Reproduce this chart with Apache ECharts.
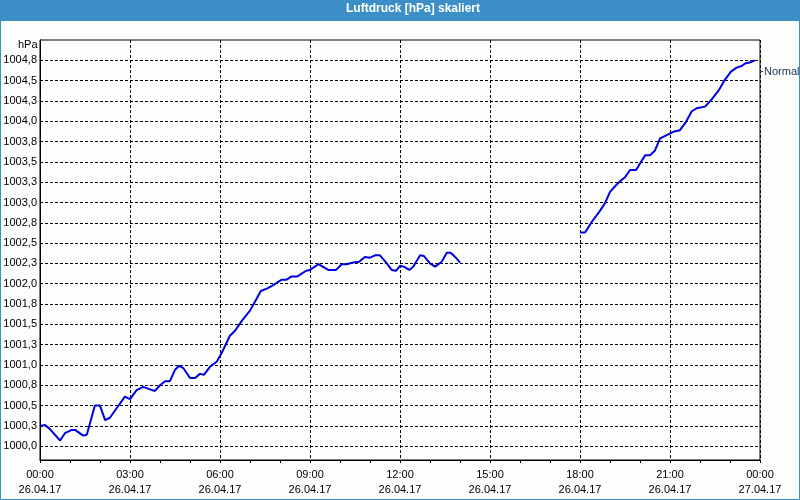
<!DOCTYPE html>
<html>
<head>
<meta charset="utf-8">
<script src="https://cdn.jsdelivr.net/npm/echarts@6/dist/echarts.min.js"></script>
<style>
html,body{margin:0;padding:0;background:#fcfefc;}
#chart{width:800px;height:500px;}
</style>
</head>
<body>
<div id="chart"></div>
<script>
// --- data ---
var seriesName = 'Normal';
var hours = [
  0.0, 0.17, 0.33, 0.67, 0.83, 1.06, 1.17, 1.44, 1.56, 1.83, 2.0, 2.17, 2.33, 2.56, 2.83, 3.0,
  3.22, 3.44, 3.67, 3.83, 4.0, 4.17, 4.33, 4.5, 4.64, 4.78, 5.0, 5.17, 5.33, 5.47, 5.67, 5.89,
  6.06, 6.33, 6.5, 6.72, 7.0, 7.17, 7.36, 7.56, 7.72, 8.06, 8.22, 8.39, 8.58, 8.87, 9.0, 9.28,
  9.61, 9.87, 10.06, 10.22, 10.44, 10.64, 10.83, 11.0, 11.17, 11.33, 11.56, 11.72, 11.87, 12.0,
  12.13, 12.31, 12.44, 12.67, 12.8, 13.0, 13.17, 13.39, 13.56, 13.69, 13.89, 14.0,
  16.0,
  18.0, 18.17, 18.39, 18.67, 18.83, 19.0, 19.17, 19.33, 19.5, 19.67, 19.87, 20.0, 20.17, 20.33,
  20.5, 20.67, 20.89, 21.11, 21.33, 21.53, 21.72, 21.89, 22.17, 22.39, 22.64, 22.83, 23.03,
  23.22, 23.39, 23.5, 23.72, 23.83
];
var pressure = [
  1000.25, 1000.26, 1000.21, 1000.07, 1000.16, 1000.20, 1000.20, 1000.13, 1000.14, 1000.50, 1000.50, 1000.32, 1000.35, 1000.47, 1000.61, 1000.58,
  1000.69, 1000.73, 1000.70, 1000.68, 1000.75, 1000.80, 1000.80, 1000.94, 1000.99, 1000.96, 1000.84, 1000.84, 1000.89, 1000.88, 1000.98, 1001.04,
  1001.15, 1001.36, 1001.42, 1001.54, 1001.67, 1001.78, 1001.91, 1001.94, 1001.97, 1002.05, 1002.05, 1002.09, 1002.09, 1002.16, 1002.17, 1002.24,
  1002.17, 1002.17, 1002.24, 1002.24, 1002.26, 1002.27, 1002.33, 1002.32, 1002.35, 1002.35, 1002.25, 1002.17, 1002.16, 1002.22,
  1002.21, 1002.17, 1002.21, 1002.35, 1002.34, 1002.25, 1002.21, 1002.27, 1002.38, 1002.38, 1002.31, 1002.26,
  null,
  1002.63, 1002.63, 1002.76, 1002.90, 1002.99, 1003.13, 1003.20, 1003.26, 1003.31, 1003.40, 1003.40, 1003.48, 1003.58, 1003.58,
  1003.64, 1003.79, 1003.83, 1003.87, 1003.89, 1003.99, 1004.12, 1004.16, 1004.18, 1004.27, 1004.39, 1004.51, 1004.61,
  1004.66, 1004.68, 1004.71, 1004.73, 1004.75
];
var yTickValues = [1000, 1000.25, 1000.5, 1000.75, 1001, 1001.25, 1001.5, 1001.75, 1002, 1002.25,
  1002.5, 1002.75, 1003, 1003.25, 1003.5, 1003.75, 1004, 1004.25, 1004.5, 1004.75];
var yTickLabels = ['1000,0', '1000,3', '1000,5', '1000,8', '1001,0', '1001,3', '1001,5', '1001,8', '1002,0', '1002,3',
  '1002,5', '1002,8', '1003,0', '1003,3', '1003,5', '1003,8', '1004,0', '1004,3', '1004,5', '1004,8'];
var xTimeLabels = ['00:00', '03:00', '06:00', '09:00', '12:00', '15:00', '18:00', '21:00', '00:00'];
var xDateLabels = ['26.04.17', '26.04.17', '26.04.17', '26.04.17', '26.04.17', '26.04.17', '26.04.17', '26.04.17', '27.04.17'];
var titleText = 'Luftdruck [hPa] skaliert';
var unitText = 'hPa';

// --- chart ---
var FONT = '"Liberation Sans", Arial, sans-serif';
var chart = echarts.init(document.getElementById('chart'), null, {renderer: 'canvas'});
var data = hours.map(function (h, i) { return [h, pressure[i]]; });

chart.setOption({
  animation: false,
  backgroundColor: '#fcfefc',
  textStyle: {fontFamily: FONT},
  title: {
    text: titleText,
    left: 346, top: 3,
    padding: 0,
    textStyle: {color: '#ffffff', fontSize: 12, fontWeight: 'bold', fontFamily: FONT}
  },
  graphic: [
    {type: 'rect', z: -1, shape: {x: 0, y: 0, width: 800, height: 21}, style: {fill: '#3c8ec6'}},
    {type: 'rect', z: -1, shape: {x: 0.5, y: 0.5, width: 799, height: 499}, style: {fill: null, stroke: '#3c8ec6', lineWidth: 1}},
    {type: 'text', left: 18, top: 39, style: {text: unitText, fill: '#000', font: '11px ' + FONT}}
  ],
  legend: {
    data: [{name: seriesName, icon: 'rect', itemStyle: {color: '#444'}}],
    orient: 'vertical',
    left: 760, top: 66,
    padding: 0,
    itemWidth: 3, itemHeight: 1, itemGap: 0,
    textStyle: {color: '#1c2c54', fontSize: 11, fontFamily: FONT, padding: [0, 0, 0, -4]}
  },
  grid: {
    left: 40, top: 40, width: 720, height: 420,
    show: true, borderColor: '#000', borderWidth: 1, backgroundColor: '#fcfefc'
  },
  xAxis: {
    type: 'value', min: 0, max: 24, interval: 3,
    axisLine: {show: true, lineStyle: {color: '#000', width: 1}},
    axisTick: {show: true, length: 3, lineStyle: {color: '#000'}},
    minorTick: {show: true, splitNumber: 3, length: 3, lineStyle: {color: '#000'}},
    splitLine: {show: true, lineStyle: {color: '#000', type: [3, 2], width: 1}},
    axisLabel: {
      margin: 7, fontSize: 11, color: '#000', lineHeight: 15, fontFamily: FONT,
      formatter: function (v) { var i = Math.round(v / 3); return xTimeLabels[i] + '\n' + xDateLabels[i]; }
    }
  },
  yAxis: {
    type: 'value', min: 999.83, max: 1005.0,
    axisLine: {show: true, lineStyle: {color: '#000', width: 1}},
    axisTick: {show: false, customValues: yTickValues},
    splitLine: {show: true, lineStyle: {color: '#000', type: [3, 2], width: 1}},
    axisLabel: {
      customValues: yTickValues,
      margin: 3, fontSize: 11, color: '#000', fontFamily: FONT,
      formatter: function (v) {
        var i = yTickValues.indexOf(v);
        if (i < 0) { for (var k = 0; k < yTickValues.length; k++) { if (Math.abs(yTickValues[k] - v) < 1e-6) { i = k; } } }
        return i >= 0 ? yTickLabels[i] : '';
      }
    }
  },
  series: [{
    name: seriesName,
    type: 'line',
    data: data,
    showSymbol: false,
    symbol: 'none',
    connectNulls: false,
    lineStyle: {color: '#0000e0', width: 2},
    itemStyle: {color: '#0000e0'}
  }]
});
</script>
</body>
</html>
